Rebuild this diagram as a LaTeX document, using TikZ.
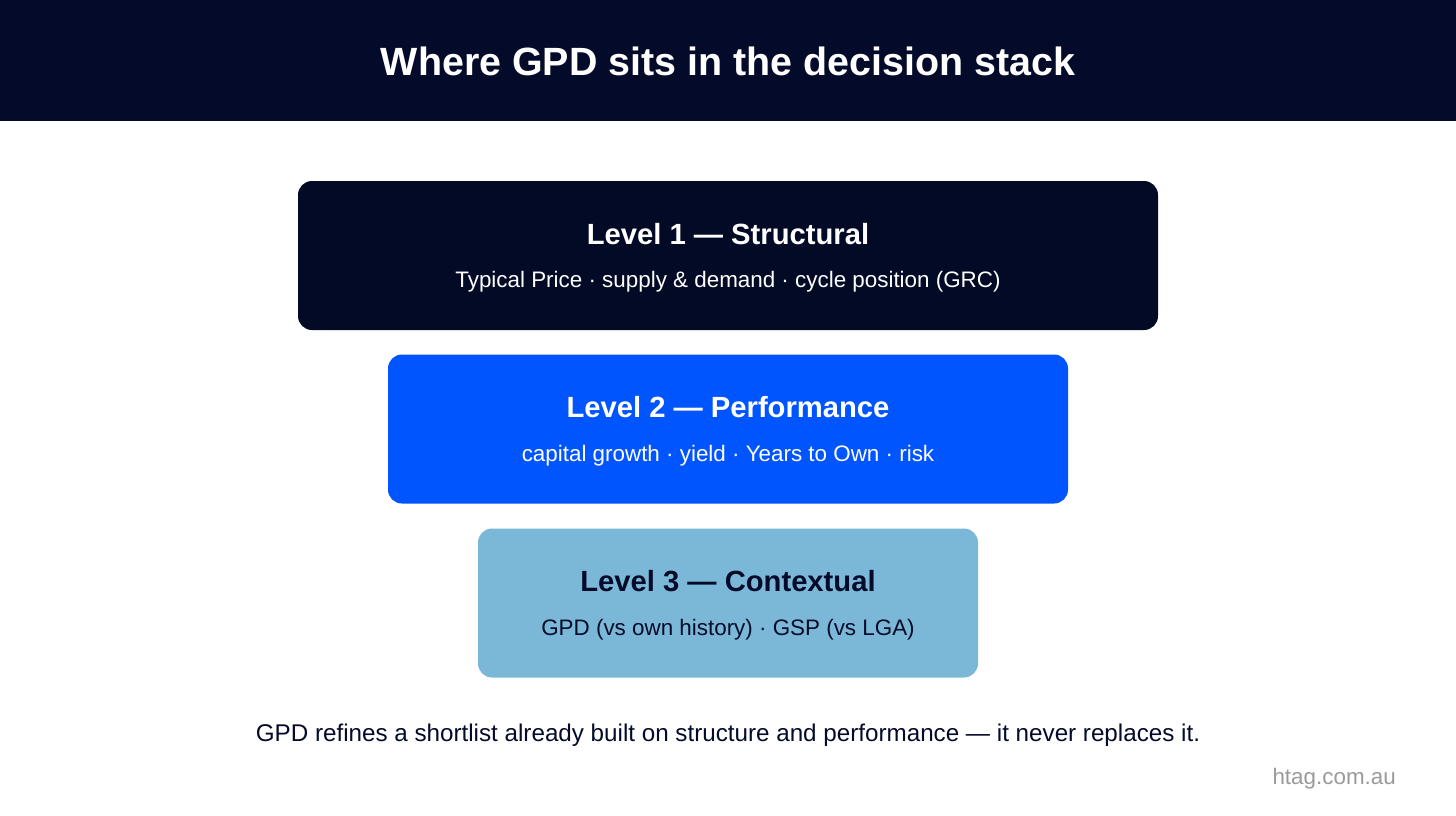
\documentclass[tikz,border=0pt]{standalone}
\usepackage{fontspec}
\setmainfont{Liberation Sans}
\definecolor{navy}{HTML}{040B2A}
\definecolor{boxnavy}{HTML}{020A26}
\definecolor{brandblue}{HTML}{0055FF}
\definecolor{lightblue}{HTML}{7BB8D7}
\definecolor{grayurl}{HTML}{9A9A9A}
\tikzset{
  tier/.style={rectangle, rounded corners=14pt, inner sep=0pt, minimum height=149pt},
  tiertitle/.style={anchor=base, inner sep=0pt, font=\fontsize{29.2}{33}\selectfont\bfseries},
  tiersub/.style={anchor=base, inner sep=0pt, font=\fontsize{22.4}{26}\selectfont},
}
\begin{document}
\begin{tikzpicture}[x=1pt,y=-1pt]
\useasboundingbox (0,0) rectangle (1456,816);
\fill[white] (0,0) rectangle (1456,816);
\fill[navy] (0,0) rectangle (1456,121);
\node[anchor=base, inner sep=0pt, text=white, font=\fontsize{39.4}{44}\selectfont\bfseries] (title) at (728,76) {Where GPD sits in the decision stack};

\node[tier, fill=boxnavy, minimum width=860pt] (l1) at (728,255.5) {};
\node[tiertitle, text=white] (l1t) at (728,244) {Level 1 — Structural};
\node[tiersub, text=white] (l1s) at (728,287) {Typical Price · supply \& demand · cycle position (GRC)};

\node[tier, fill=brandblue, minimum width=680pt] (l2) at (728,429) {};
\node[tiertitle, text=white] (l2t) at (728,417) {Level 2 — Performance};
\node[tiersub, text=white] (l2s) at (728,461) {capital growth · yield · Years to Own · risk};

\node[tier, fill=lightblue, minimum width=500pt] (l3) at (728,603) {};
\node[tiertitle, text=navy] (l3t) at (728,591) {Level 3 — Contextual};
\node[tiersub, text=navy] (l3s) at (728,635) {GPD (vs own history) · GSP (vs LGA)};

\node[anchor=base, inner sep=0pt, text=navy, font=\fontsize{24.2}{28}\selectfont] (cap) at (728,741) {GPD refines a shortlist already built on structure and performance — it never replaces it.};
\node[anchor=base east, inner sep=0pt, text=grayurl, font=\fontsize{22.4}{26}\selectfont] (url) at (1396,784) {htag.com.au};
\end{tikzpicture}
\end{document}
